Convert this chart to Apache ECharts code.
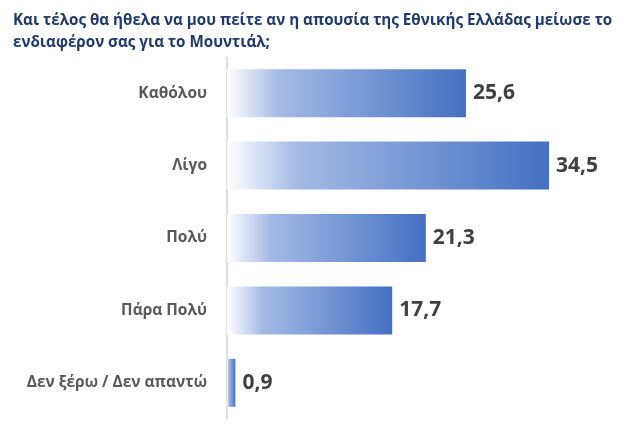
<!DOCTYPE html>
<html>
<head>
<meta charset="utf-8">
<script src="https://cdn.jsdelivr.net/npm/echarts@6/dist/echarts.min.js"></script>
<style>
  html, body { margin: 0; padding: 0; background: #fff; }
  #chart { width: 627px; height: 427px; }
</style>
</head>
<body>
<div id="chart"></div>
<script>
// categories and values
const categories = ['Καθόλου', 'Λίγο', 'Πολύ', 'Πάρα Πολύ', 'Δεν ξέρω / Δεν απαντώ']
const values = [25.6, 34.5, 21.3, 17.7, 0.9]

const chart = echarts.init(document.getElementById('chart'))
chart.setOption({
    backgroundColor: '#fff',
    title: {
        text: 'Και τέλος θα ήθελα να μου πείτε αν η απουσία της Εθνικής Ελλάδας μείωσε το\nενδιαφέρον σας για το Μουντιάλ;',
        left: 8,
        top: 5,
        textStyle: {
            color: '#1f3a6e',
            fontFamily: 'Open Sans',
            fontWeight: 'bold',
            fontSize: 15.2,
            lineHeight: 22
        }
    },
    grid: {
        left: 227,
        right: 64,
        top: 57,
        bottom: 8
    },
    xAxis: {
        type: 'value',
        min: 0,
        max: 36,
        show: false
    },
    yAxis: {
        type: 'category',
        data: categories,
        inverse: true,
        axisTick: { show: false },
        axisLine: { lineStyle: { color: '#d4d4d4', width: 1.5 } },
        axisLabel: {
            margin: 20,
            color: '#595959',
            fontWeight: 'bold',
            fontSize: 15.5,
            fontFamily: 'Open Sans'
        }
    },
    series: [
        {
            type: 'bar',
            data: values,
            barWidth: 48,
            itemStyle: {
                color: new echarts.graphic.LinearGradient(0, 0, 1, 0, [
                    { offset: 0, color: '#ffffff' },
                    { offset: 0.22, color: '#a3bae5' },
                    { offset: 1, color: '#4470c3' }
                ])
            },
            label: {
                show: true,
                position: 'right',
                distance: 7,
                formatter: p => String(p.value).replace('.', ','),
                color: '#404040',
                fontWeight: 'bold',
                fontSize: 21,
                fontFamily: 'Open Sans'
            }
        }
    ]
})
</script>
</body>
</html>
